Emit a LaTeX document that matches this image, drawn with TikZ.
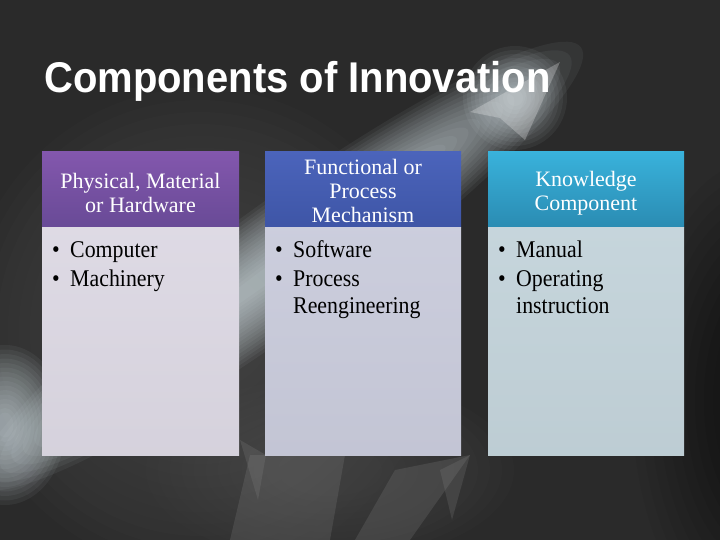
\documentclass[tikz,border=0pt]{standalone}
\usepackage{fontspec}
\setmainfont{Liberation Serif}
\newfontfamily\titlefont[FakeStretch=0.93]{Liberation Sans}
\newfontfamily\bodyfont[FakeStretch=0.91]{Liberation Serif}
\newfontfamily\headfont{Liberation Serif}
\definecolor{bgdark}{HTML}{2A2A2A}
\definecolor{hazegray}{HTML}{6A6A6A}
\definecolor{beamc}{HTML}{E6F4FA}
\definecolor{hpurpT}{HTML}{8357AD}
\definecolor{hpurpB}{HTML}{684A96}
\definecolor{hblueT}{HTML}{4B64BB}
\definecolor{hblueB}{HTML}{3E55A6}
\definecolor{hcyanT}{HTML}{39B2DB}
\definecolor{hcyanB}{HTML}{2A8BB2}
\definecolor{bpurp}{HTML}{DCD8E3}
\definecolor{bblue}{HTML}{C9CBDB}
\definecolor{bcyan}{HTML}{C3D3DA}
\tikzset{
  headtext/.style={text=white, align=center, inner sep=0pt, font=\headfont\fontsize{22}{24}\selectfont},
  bullettext/.style={text=black, anchor=base west, inner sep=0pt, align=left, font=\bodyfont\fontsize{24}{27}\selectfont},
  bulletmark/.style={text=black, anchor=base west, inner sep=0pt, font=\bodyfont\fontsize{24}{27}\selectfont},
  glow/.style={fill=#1, fill opacity=0.035, draw=none},
  beamglow/.style={fill=beamc, fill opacity=0.055, draw=none}
}
\begin{document}
\begin{tikzpicture}[x=1pt,y=-1pt]
\useasboundingbox (0,0) rectangle (720,540);
% background
\fill[bgdark] (0,0) rectangle (720,540);
% grey haze on the left and centre
\foreach \r in {1,...,16}{
  \fill[glow=hazegray] (200,330) ellipse ({60+11*\r} and {50+12*\r});
}
\foreach \r in {1,...,12}{
  \fill[glow=hazegray] (330,470) ellipse ({40+12*\r} and {20+6*\r});
}
% dark right edge
\foreach \r in {1,...,12}{
  \fill[black, fill opacity=0.04] (760,400) ellipse ({20+9*\r} and {60+15*\r});
}
% light beam
\begin{scope}[shift={(280,266)}, rotate=36]
  \foreach \r in {1,...,18}{
    \fill[beamglow] (0,0) ellipse ({120+14*\r} and {4+3.2*\r});
  }
\end{scope}
\foreach \r in {1,...,16}{
  \fill[beamglow] (5,425) ellipse ({5+3.5*\r} and {8+4.5*\r});
}
\foreach \r in {1,...,12}{
  \fill[beamglow] (515,98) ellipse ({4+4*\r} and {4+4*\r});
}
% arrowhead of the beam
\fill[white, fill opacity=0.25] (560,62) -- (470,112) -- (500,118) -- (525,140) -- cycle;
% grey arrows at the bottom
\fill[gray!80, fill opacity=0.18] (250,455) -- (230,540) -- (330,540) -- (345,455) -- cycle;
\fill[gray!80, fill opacity=0.18] (410,540) -- (470,455) -- (395,470) -- (355,540) -- cycle;
\fill[gray!90, fill opacity=0.2] (240,440) -- (258,500) -- (266,455) -- cycle;
\fill[gray!90, fill opacity=0.2] (440,470) -- (452,520) -- (470,455) -- cycle;

% title
\node[anchor=base west, inner sep=0pt, text=white, font=\titlefont\bfseries\fontsize{43}{47}\selectfont] (title) at (44,93) {Components of Innovation};

% column 1
\shade[top color=hpurpT, bottom color=hpurpB] (42,152) rectangle (239,228);
\shade[top color=bpurp!95!white, bottom color=bpurp!97!black] (42,228) rectangle (239,455);
\node[headtext] (h1) at (140.5,193) {Physical, Material\\or Hardware};
\node[bulletmark] (b1a) at (52,258) {\textbullet};
\node[bullettext] (t1a) at (70,258) {Computer};
\node[bulletmark] (b1b) at (52,286) {\textbullet};
\node[bullettext] (t1b) at (70,286) {Machinery};

% column 2
\shade[top color=hblueT, bottom color=hblueB] (265,152) rectangle (461,228);
\shade[top color=bblue!95!white, bottom color=bblue!97!black] (265,228) rectangle (461,455);
\node[headtext] (h2) at (363,191) {Functional or\\Process\\Mechanism};
\node[bulletmark] (b2a) at (275,258) {\textbullet};
\node[bullettext] (t2a) at (293,258) {Software};
\node[bulletmark] (b2b) at (275,286) {\textbullet};
\node[bullettext] (t2b) at (293,313) {Process\\Reengineering};

% column 3
\shade[top color=hcyanT, bottom color=hcyanB] (488,152) rectangle (684,228);
\shade[top color=bcyan!95!white, bottom color=bcyan!97!black] (488,228) rectangle (684,455);
\node[headtext] (h3) at (586,193) {Knowledge\\Component};
\node[bulletmark] (b3a) at (498,258) {\textbullet};
\node[bullettext] (t3a) at (516,258) {Manual};
\node[bulletmark] (b3b) at (498,286) {\textbullet};
\node[bullettext] (t3b) at (516,313) {Operating\\instruction};
\end{tikzpicture}
\end{document}
